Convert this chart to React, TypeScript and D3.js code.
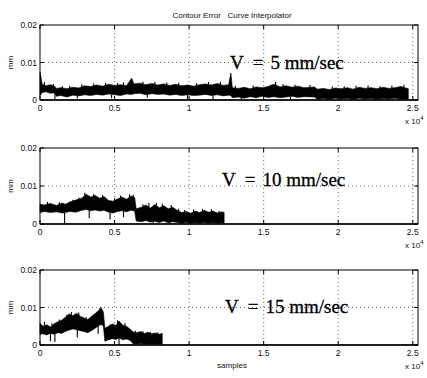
import React from "react";
import * as d3 from "d3";

// [sample, lower envelope (mm), upper envelope (mm)]
const v5Band: [number, number, number][] = [
  [0, 0.0012, 0.0075], [150, 0.002, 0.0042], [400, 0.0022, 0.0038], [700, 0.0018, 0.0041],
  [1000, 0.0019, 0.0036], [1100, 0.001, 0.0031], [1400, 0.0012, 0.0033], [1800, 0.0008, 0.003],
  [2200, 0.0013, 0.0034], [2600, 0.0011, 0.0032], [3000, 0.0014, 0.0038], [3400, 0.0012, 0.0036],
  [3800, 0.0015, 0.004], [4200, 0.0013, 0.0037], [4600, 0.0016, 0.0042], [5000, 0.0014, 0.0039],
  [5400, 0.0012, 0.0041], [5800, 0.0016, 0.0038], [6150, 0.0015, 0.0058], [6300, 0.0017, 0.0043],
  [6700, 0.0018, 0.0045], [7100, 0.0014, 0.0041], [7500, 0.0017, 0.0044], [7900, 0.0015, 0.004],
  [8300, 0.0016, 0.0043], [8700, 0.0013, 0.0039], [9100, 0.0015, 0.0042], [9500, 0.0012, 0.0038],
  [9900, 0.0014, 0.004], [10300, 0.0012, 0.0037], [10700, 0.0013, 0.0041], [11100, 0.0015, 0.0043],
  [11500, 0.0012, 0.004], [11900, 0.0014, 0.0044], [12300, 0.0011, 0.0039], [12650, 0.0013, 0.0041],
  [12800, 0.0012, 0.0072], [12900, 0.0006, 0.0033], [13300, 0.0008, 0.0031], [13700, 0.0005, 0.0034],
  [14100, 0.0009, 0.003], [14500, 0.0006, 0.0035], [14900, 0.001, 0.0033], [15300, 0.0007, 0.0036],
  [15700, 0.0009, 0.0042], [16100, 0.0006, 0.0035], [16500, 0.0008, 0.0038], [16900, 0.001, 0.0034],
  [17300, 0.0007, 0.0037], [17700, 0.0009, 0.0033], [18400, 0.0008, 0.0035], [18600, 0.0002, 0.0029],
  [19000, 0.0004, 0.0031], [19400, 0.0002, 0.0028], [19800, 0.0005, 0.0032], [20200, 0.0003, 0.003],
  [20600, 0.0004, 0.0033], [21000, 0.0002, 0.0029], [21400, 0.0005, 0.0034], [21800, 0.0003, 0.0031],
  [22200, 0.0004, 0.0033], [22600, 0.0002, 0.003], [23000, 0.0004, 0.0034], [23400, 0.0003, 0.0031],
  [23800, 0.0005, 0.0033], [24200, 0.0002, 0.0036], [24700, 0.0003, 0.003],
];

const v10Band: [number, number, number][] = [
  [0, 0.003, 0.0052], [300, 0.0033, 0.005], [700, 0.003, 0.0054], [1100, 0.0032, 0.0049],
  [1500, 0.0029, 0.0055], [1700, 0.003, 0.0052], [2000, 0.0033, 0.0058], [2400, 0.0031, 0.0063],
  [2800, 0.0036, 0.0068], [3100, 0.0038, 0.0078], [3400, 0.0035, 0.0071], [3700, 0.0037, 0.0075],
  [4000, 0.0034, 0.0068], [4300, 0.0036, 0.0072], [4600, 0.0031, 0.0062], [4900, 0.0029, 0.006],
  [5200, 0.0033, 0.0066], [5500, 0.0035, 0.0071], [5800, 0.0032, 0.0065], [6100, 0.0036, 0.0074],
  [6350, 0.0034, 0.007], [6450, 0.0008, 0.004], [6800, 0.0006, 0.0044], [7100, 0.0009, 0.005],
  [7400, 0.0005, 0.0042], [7700, 0.0007, 0.0051], [8000, 0.0004, 0.0043], [8300, 0.0008, 0.0048],
  [8600, 0.0003, 0.004], [8900, 0.0006, 0.0044], [9200, 0.0004, 0.0036], [9500, 0.0002, 0.003],
  [9800, 0.0004, 0.0033], [10100, 0.0002, 0.0028], [10400, 0.0003, 0.0034], [10700, 0.0002, 0.003],
  [11000, 0.0004, 0.0036], [11300, 0.0002, 0.0031], [11600, 0.0003, 0.0034], [11900, 0.0002, 0.0029],
  [12200, 0.0003, 0.0032], [12350, 0.0002, 0.003],
];

const v15Band: [number, number, number][] = [
  [0, 0.0028, 0.0058], [200, 0.003, 0.005], [450, 0.0027, 0.0054], [700, 0.0031, 0.0048],
  [950, 0.0029, 0.0057], [1200, 0.0033, 0.0062], [1450, 0.0031, 0.0066], [1700, 0.0036, 0.0074],
  [1950, 0.004, 0.0083], [2200, 0.0043, 0.0078], [2450, 0.0041, 0.0085], [2700, 0.0038, 0.0077],
  [2950, 0.0036, 0.0072], [3200, 0.0033, 0.0068], [3450, 0.0038, 0.0076], [3700, 0.0045, 0.0084],
  [3950, 0.0052, 0.0093], [4100, 0.0055, 0.01], [4250, 0.005, 0.0088], [4350, 0.001, 0.0045],
  [4600, 0.0014, 0.005], [4850, 0.0017, 0.0056], [5100, 0.0015, 0.0052], [5300, 0.0019, 0.0064],
  [5550, 0.0014, 0.0053], [5800, 0.0016, 0.005], [6050, 0.0012, 0.0042], [6250, 0.0003, 0.0035],
  [6500, 0.0002, 0.0033], [6750, 0.0004, 0.0036], [7000, 0.0002, 0.0031], [7250, 0.0003, 0.0034],
  [7500, 0.0002, 0.003], [7750, 0.0003, 0.0032], [8000, 0.0002, 0.0029], [8200, 0.0002, 0.0031],
];

// downward spikes: [sample, minimum value (mm)]
const v5Dips: [number, number][] = [
  [1000, 0.0003], [2500, 0.0004], [4800, 0.0005], [7200, 0.0006], [9900, 0.0],
  [11600, 0.0003], [13500, 0.0], [16800, 0.0002], [18600, 0.0],
];
const v10Dips: [number, number][] = [
  [1650, 0.0], [3300, 0.0015], [4700, 0.0012], [5600, 0.0018], [7600, 0.0], [8700, 0.0],
];
const v15Dips: [number, number][] = [
  [700, 0.001], [1000, 0.0008], [2500, 0.002], [3900, 0.003], [5300, 0.0],
];

// upward spikes: [sample, peak value (mm)]
const v5Peaks: [number, number][] = [
  [300, 0.0048], [900, 0.0043], [1500, 0.0037], [2000, 0.0038], [2800, 0.0042], [3600, 0.0044],
  [4400, 0.0046], [5200, 0.0045], [5600, 0.0047], [6900, 0.0049], [7700, 0.0048], [8500, 0.0047],
  [9300, 0.0046], [10500, 0.0045], [11300, 0.0048], [12100, 0.0049], [13100, 0.0038], [14300, 0.0039],
  [15500, 0.0041], [15800, 0.0048], [16300, 0.0043], [17100, 0.0041], [18100, 0.004], [19600, 0.0036],
  [20400, 0.0037], [21200, 0.0038], [22000, 0.0039], [22800, 0.0037], [23600, 0.0039], [24400, 0.0041],
];
const v10Peaks: [number, number][] = [
  [500, 0.0058], [1300, 0.0057], [2200, 0.0064], [2600, 0.0069], [3000, 0.0082], [3600, 0.0079],
  [4200, 0.0076], [5000, 0.0068], [5400, 0.0075], [6000, 0.0078], [6250, 0.0077], [6900, 0.0052],
  [7300, 0.0055], [7800, 0.0056], [8200, 0.0053], [8800, 0.005], [9300, 0.004], [9700, 0.0037],
  [10300, 0.0038], [10900, 0.004], [11500, 0.0039], [12000, 0.0034],
];
const v15Peaks: [number, number][] = [
  [300, 0.0062], [800, 0.0058], [1300, 0.0068], [1800, 0.0081], [2100, 0.0088], [2600, 0.0087],
  [3100, 0.0075], [3600, 0.0082], [4000, 0.0098], [4700, 0.0055], [5200, 0.0066], [5700, 0.0058],
  [6400, 0.0038], [6900, 0.0037], [7400, 0.0035], [7900, 0.0034],
];

const xTicks = [0, 5000, 10000, 15000, 20000, 25000];
const xTickLabels = ["0", "0.5", "1", "1.5", "2", "2.5"];
const yTicks = [0, 0.01, 0.02];
const yTickLabels = ["0", "0.01", "0.02"];
const speedLabels = ["V = 5 mm/sec", "V = 10 mm/sec", "V = 15 mm/sec"];
const titleText = "Contour Error   Curve Interpolator";

const W = 427;
const H = 378;
const L = 40;
const R = 418;
const panels = [
  { top: 25, bottom: 100, band: v5Band, dips: v5Dips, peaks: v5Peaks, tx: 230, ty: 69 },
  { top: 148, bottom: 224, band: v10Band, dips: v10Dips, peaks: v10Peaks, tx: 222, ty: 186 },
  { top: 270, bottom: 345, band: v15Band, dips: v15Dips, peaks: v15Peaks, tx: 225, ty: 313 },
];

const sans = "'Liberation Sans', Arial, sans-serif";
const serif = "'Liberation Serif', 'DejaVu Serif', serif";

function envAt(b: [number, number, number][], s: number, idx: 1 | 2) {
  for (let k = 0; k < b.length - 1; k++) {
    if (s >= b[k][0] && s <= b[k + 1][0]) {
      const t = (s - b[k][0]) / (b[k + 1][0] - b[k][0]);
      return b[k][idx] + t * (b[k + 1][idx] - b[k][idx]);
    }
  }
  return b[b.length - 1][idx];
}

export default function App() {
  const x = d3.scaleLinear().domain([0, 25350]).range([L, R]);
  return (
    <svg width={W} height={H} style={{ position: "absolute", left: 0, top: 0, background: "#fff" }}>
      <rect x={0} y={0} width={W} height={H} fill="#fff" />
      <text x={232} y={18} textAnchor="middle" fontFamily={sans} fontSize={8} fill="#111" style={{ whiteSpace: "pre" }}>
        {titleText}
      </text>
      {panels.map((p, i) => {
        const y = d3.scaleLinear().domain([0, 0.02]).range([p.bottom, p.top]);
        const area = d3
          .area<[number, number, number]>()
          .x((d) => x(d[0]))
          .y0((d) => y(d[1]))
          .y1((d) => y(d[2]));
        const midY = (p.top + p.bottom) / 2;
        const parts = speedLabels[i].split(" = ");
        return (
          <g key={i}>
            {/* grid */}
            {xTicks.slice(1).map((t) => (
              <line key={"gx" + t} x1={x(t)} x2={x(t)} y1={p.top} y2={p.bottom} stroke="#444" strokeWidth={0.8} strokeDasharray="1,3" />
            ))}
            <line x1={L} x2={R} y1={y(0.01)} y2={y(0.01)} stroke="#444" strokeWidth={0.8} strokeDasharray="1,3" />
            {/* data */}
            <path d={area(p.band) || ""} fill="#000" stroke="#000" strokeWidth={0.6} />
            {p.dips.map((d, k) => (
              <line key={"dp" + k} x1={x(d[0])} x2={x(d[0])} y1={y(envAt(p.band, d[0], 1))} y2={y(d[1])} stroke="#000" strokeWidth={1.1} />
            ))}
            {p.peaks.map((d, k) => (
              <line key={"pk" + k} x1={x(d[0])} x2={x(d[0])} y1={y(envAt(p.band, d[0], 2))} y2={y(d[1])} stroke="#000" strokeWidth={1.1} />
            ))}
            {/* box */}
            <rect x={L} y={p.top} width={R - L} height={p.bottom - p.top} fill="none" stroke="#000" strokeWidth={1} />
            <line x1={L} x2={R} y1={p.bottom} y2={p.bottom} stroke="#000" strokeWidth={1.4} />
            {/* ticks */}
            {xTicks.map((t) => (
              <g key={"tx" + t}>
                <line x1={x(t)} x2={x(t)} y1={p.bottom} y2={p.bottom - 4} stroke="#000" />
                <line x1={x(t)} x2={x(t)} y1={p.top} y2={p.top + 4} stroke="#000" />
              </g>
            ))}
            {yTicks.map((t) => (
              <g key={"ty" + t}>
                <line x1={L} x2={L + 4} y1={y(t)} y2={y(t)} stroke="#000" />
                <line x1={R} x2={R - 4} y1={y(t)} y2={y(t)} stroke="#000" />
              </g>
            ))}
            {/* tick labels */}
            {xTicks.map((t, k) => (
              <text key={"lx" + t} x={x(t)} y={p.bottom + 11} textAnchor="middle" fontFamily={sans} fontSize={8.5} fill="#111">
                {xTickLabels[k]}
              </text>
            ))}
            {yTicks.map((t, k) => (
              <text key={"ly" + t} x={L - 3} y={y(t) + 3} textAnchor="end" fontFamily={sans} fontSize={8.5} fill="#111">
                {yTickLabels[k]}
              </text>
            ))}
            <text x={405} y={p.bottom + 24} fontFamily={sans} fontSize={8} fill="#111">
              x 10<tspan dy={-4} fontSize={6}>4</tspan>
            </text>
            <text transform={`translate(13,${midY}) rotate(-90)`} textAnchor="middle" fontFamily={sans} fontSize={8} fill="#111">
              mm
            </text>
            <text x={p.tx} y={p.ty} fontFamily={serif} fontSize={19} fill="#000" stroke="#000" strokeWidth={0.3}>
              <tspan>{parts[0]}</tspan>
              <tspan dx={9}>=</tspan>
              <tspan dx={7}>{parts[1]}</tspan>
            </text>
          </g>
        );
      })}
      <text x={232} y={368} textAnchor="middle" fontFamily={sans} fontSize={8} fill="#111">
        samples
      </text>
    </svg>
  );
}
